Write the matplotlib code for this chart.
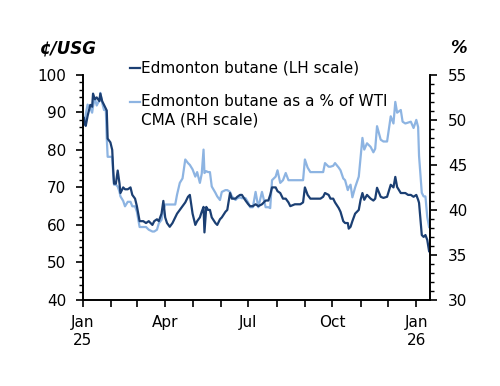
import matplotlib
matplotlib.use("Agg")
import matplotlib.pyplot as plt
import matplotlib.dates as mdates
from matplotlib.lines import Line2D
import pandas as pd

# data
dates = [
    "2025-01-02", "2025-01-03", "2025-01-04", "2025-01-06", "2025-01-09", "2025-01-11",
    "2025-01-12", "2025-01-14", "2025-01-16", "2025-01-19", "2025-01-20", "2025-01-22",
    "2025-01-24", "2025-01-26", "2025-01-27", "2025-01-28", "2025-01-31", "2025-02-02",
    "2025-02-03", "2025-02-04", "2025-02-06", "2025-02-08", "2025-02-10", "2025-02-11",
    "2025-02-14", "2025-02-16", "2025-02-19", "2025-02-22", "2025-02-24", "2025-02-27",
    "2025-03-01", "2025-03-04", "2025-03-08", "2025-03-11", "2025-03-14", "2025-03-18",
    "2025-03-20", "2025-03-23", "2025-03-25", "2025-03-28", "2025-03-30", "2025-04-01",
    "2025-04-03", "2025-04-06", "2025-04-09", "2025-04-12", "2025-04-14", "2025-04-17",
    "2025-04-20", "2025-04-23", "2025-04-26", "2025-04-28", "2025-05-01", "2025-05-04",
    "2025-05-06", "2025-05-09", "2025-05-11", "2025-05-13", "2025-05-14", "2025-05-16",
    "2025-05-18", "2025-05-20", "2025-05-22", "2025-05-26", "2025-05-28", "2025-05-31",
    "2025-06-02", "2025-06-06", "2025-06-08", "2025-06-11", "2025-06-13", "2025-06-17",
    "2025-06-19", "2025-06-22", "2025-06-24", "2025-06-28", "2025-07-01", "2025-07-03",
    "2025-07-06", "2025-07-09", "2025-07-12", "2025-07-16", "2025-07-20", "2025-07-23",
    "2025-07-25", "2025-07-27", "2025-07-31", "2025-08-02", "2025-08-05", "2025-08-08",
    "2025-08-11", "2025-08-14", "2025-08-16", "2025-08-21", "2025-08-27", "2025-08-30",
    "2025-09-01", "2025-09-04", "2025-09-07", "2025-09-12", "2025-09-18", "2025-09-21",
    "2025-09-23", "2025-09-27", "2025-09-29", "2025-10-02", "2025-10-04", "2025-10-08",
    "2025-10-10", "2025-10-13", "2025-10-15", "2025-10-18", "2025-10-19", "2025-10-21",
    "2025-10-23", "2025-10-26", "2025-10-30", "2025-11-01", "2025-11-03", "2025-11-05",
    "2025-11-08", "2025-11-12", "2025-11-15", "2025-11-17", "2025-11-19", "2025-11-23",
    "2025-11-26", "2025-11-30", "2025-12-04", "2025-12-07", "2025-12-09", "2025-12-11",
    "2025-12-15", "2025-12-17", "2025-12-20", "2025-12-23", "2025-12-26", "2025-12-29",
    "2026-01-01", "2026-01-03", "2026-01-04", "2026-01-07", "2026-01-09", "2026-01-11",
    "2026-01-13", "2026-01-15",
]

# Edmonton butane, cents/USG (left scale)
butane = [
    88.5, 87.0, 86.4, 89.0, 92.0, 91.5,
    95.0, 93.5, 94.0, 93.0, 95.0, 93.0,
    92.0, 91.0, 90.5, 83.0, 82.0, 80.0,
    75.0, 71.0, 71.0, 74.5, 71.0, 68.5,
    70.0, 69.5, 69.5, 70.0, 68.0, 67.0,
    65.0, 61.0, 61.0, 60.5, 61.0, 60.0,
    61.0, 61.5, 61.0, 63.0, 66.4, 62.0,
    60.5, 59.5, 60.5, 62.0, 63.0, 64.0,
    65.0, 66.0, 67.5, 68.0, 63.0, 60.0,
    61.0, 62.0, 63.5, 64.8, 58.0, 64.8,
    64.0, 64.0, 62.0, 60.5, 60.0, 61.5,
    62.0, 63.5, 64.0, 68.5, 67.0, 67.0,
    67.5, 68.0, 68.0, 66.5, 65.5, 65.0,
    65.0, 65.5, 65.0, 65.5, 66.5, 66.5,
    68.0, 70.0, 70.0, 69.0, 68.5, 67.0,
    67.0, 66.0, 65.0, 65.5, 65.5, 66.0,
    70.0, 68.0, 67.0, 67.0, 67.0, 67.5,
    68.5, 68.0, 67.0, 67.0, 66.0, 64.5,
    63.5, 61.0, 60.5, 60.5, 59.0, 59.5,
    61.0, 63.0, 64.0, 66.7, 68.5, 66.7,
    68.0, 67.0, 66.5, 67.0, 69.9, 67.5,
    67.2, 67.5, 70.7, 70.0, 72.8, 70.1,
    68.5, 68.5, 68.5, 68.0, 68.0, 67.5,
    68.0, 66.7, 65.9, 57.3, 56.8, 57.3,
    56.0, 53.0,
]

# Edmonton butane as a % of WTI CMA (right scale)
pct_wti = [
    50.2, 50.0, 50.6, 51.7, 51.3, 50.8,
    51.5, 52.4, 51.6, 52.2, 53.0, 51.9,
    51.1, 51.1, 48.0, 45.9, 45.9, 45.9,
    44.0, 42.8, 42.8, 42.6, 42.0, 41.5,
    41.0, 40.4, 40.9, 40.9, 40.4, 40.4,
    39.8, 38.1, 38.1, 38.1, 37.8, 37.6,
    37.6, 37.8, 38.5, 38.9, 40.0, 40.6,
    40.6, 40.6, 40.6, 40.6, 41.7, 43.0,
    43.5, 45.6, 45.2, 45.0, 44.5, 43.7,
    44.2, 43.0, 44.0, 46.7, 44.1, 44.3,
    44.2, 44.2, 42.6, 41.9, 41.5, 41.1,
    42.0, 42.2, 42.2, 42.0, 41.5, 41.1,
    41.3, 41.4, 41.3, 41.3, 40.8, 40.3,
    40.3, 42.0, 40.3, 42.0, 40.3, 40.3,
    40.2, 43.3, 43.7, 44.4, 43.0, 43.3,
    44.1, 43.3, 43.3, 43.3, 43.3, 43.3,
    45.6, 44.7, 44.2, 44.2, 44.2, 44.2,
    45.2, 44.8, 44.8, 44.9, 45.2, 44.7,
    44.4, 43.5, 43.3, 42.2, 42.5, 42.8,
    41.4, 42.5, 43.7, 45.9, 48.0, 46.7,
    47.4, 47.0, 46.4, 46.8, 49.3, 47.8,
    47.6, 47.6, 50.4, 49.6, 52.0, 50.8,
    51.1, 49.8, 49.6, 49.7, 49.8, 49.1,
    50.0, 49.2, 46.0, 41.9, 41.5, 41.5,
    39.2, 38.1,
]

tick_dates = ["2025-01-01", "2025-04-01", "2025-07-01", "2025-10-01", "2026-01-01"]
tick_labels = ["Jan\n25", "Apr", "Jul", "Oct", "Jan\n26"]

dark = "#1b3f73"
light = "#8db4e2"

plt.rcParams["font.family"] = ["DejaVu Sans"]
plt.rcParams["font.size"] = 11

x = pd.to_datetime(dates)

fig = plt.figure(figsize=(5, 3.86), dpi=100)
ax = fig.add_axes([0.166, 0.223, 0.694, 0.583])
ax2 = ax.twinx()

ax2.plot(x, pct_wti, color=light, lw=1.6)
ax.plot(x, butane, color=dark, lw=1.6)
# keep the dark line on top
ax.set_zorder(ax2.get_zorder() + 1)
ax.patch.set_visible(False)

ax.set_xlim(pd.Timestamp("2025-01-01"), pd.Timestamp("2026-01-16"))
ax.set_ylim(40, 100)
ax2.set_ylim(30, 55)

ax.set_xticks(pd.to_datetime(tick_dates))
ax.set_xticklabels(tick_labels)
ax.xaxis.set_minor_locator(mdates.MonthLocator())
ax.set_yticks(range(40, 101, 10))
ax.set_yticks(range(40, 101, 2), minor=True)
ax2.set_yticks(range(30, 56, 5))
ax2.set_yticks(range(30, 56, 1), minor=True)

for a in (ax, ax2):
    a.spines["top"].set_visible(False)
    for s in a.spines.values():
        s.set_linewidth(1.2)
    a.tick_params(which="major", direction="out", length=5, width=1.2, labelsize=11)
    a.tick_params(which="minor", direction="out", length=3, width=1.0)
ax.tick_params(axis="x", which="minor", length=5, width=1.2)
ax.tick_params(axis="x", pad=6)
ax.tick_params(axis="y", pad=7)
ax2.tick_params(axis="y", pad=8)

# unit labels
fig.text(40 / 500, 1 - 48 / 386, "\u00a2/USG", fontsize=12, fontweight="bold",
         style="italic", ha="left", va="center")
fig.text(458 / 500, 1 - 48 / 386, "%", fontsize=12, fontweight="bold",
         style="italic", ha="center", va="center")

# legend drawn by hand so the handle sits on the first line of the label
fig.add_artist(Line2D([130 / 500, 140 / 500], [1 - 68 / 386] * 2, color=dark, lw=1.6,
                      transform=fig.transFigure))
fig.text(141 / 500, 1 - 68 / 386, "Edmonton butane (LH scale)", ha="left", va="center")
fig.add_artist(Line2D([130 / 500, 140 / 500], [1 - 102 / 386] * 2, color=light, lw=1.6,
                      transform=fig.transFigure))
fig.text(141 / 500, 1 - 102 / 386, "Edmonton butane as a % of WTI", ha="left", va="center")
fig.text(141 / 500, 1 - 120 / 386, "CMA (RH scale)", ha="left", va="center")

fig.savefig("out.png", dpi=100)
